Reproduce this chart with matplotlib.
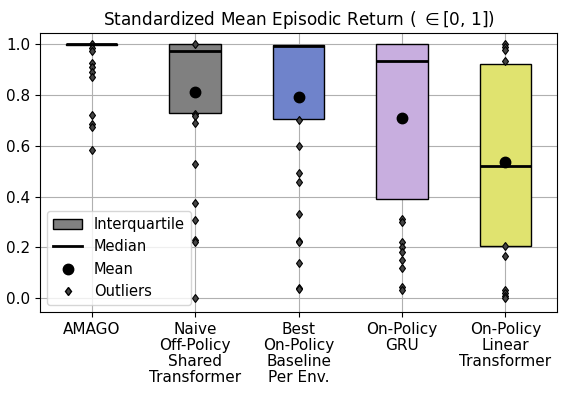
import numpy as np
import matplotlib
matplotlib.use("Agg")
import matplotlib.pyplot as plt
from matplotlib.patches import Patch
from matplotlib.lines import Line2D

methods = [
    "AMAGO",
    "Naive\nOff-Policy\nShared\nTransformer",
    "Best\nOn-Policy\nBaseline\nPer Env.",
    "On-Policy\nGRU",
    "On-Policy\nLinear\nTransformer",
]
colors = ["#808080", "#808080", "#6f83cb", "#c8aedf", "#e0e36f"]

q1 = [0.997, 0.730, 0.707, 0.389, 0.207]
medians = [1.000, 0.972, 0.992, 0.935, 0.522]
q3 = [1.000, 1.000, 0.997, 1.000, 0.924]
means = [np.nan, 0.811, 0.793, 0.710, 0.538]
outliers = [
    [1.0, 0.984, 0.974, 0.928, 0.911, 0.89, 0.871, 0.72, 0.684, 0.675, 0.585],
    [1.0, 0.727, 0.717, 0.688, 0.528, 0.375, 0.307, 0.228, 0.222, 0.0],
    [0.703, 0.60, 0.491, 0.458, 0.333, 0.226, 0.22, 0.14, 0.041, 0.035],
    [0.31, 0.30, 0.22, 0.202, 0.182, 0.15, 0.12, 0.042, 0.03],
    [1.0, 0.99, 0.976, 0.934, 0.207, 0.165, 0.03, 0.02, 0.01, 0.0],
]

stats = []
for i in range(len(methods)):
    stats.append({
        "q1": q1[i], "med": medians[i], "q3": q3[i], "mean": means[i],
        "whislo": q1[i], "whishi": q3[i], "fliers": outliers[i],
    })

fig, ax = plt.subplots(figsize=(5.78, 3.96), dpi=100)
fig.subplots_adjust(left=0.069, right=0.964, top=0.917, bottom=0.212)

ax.set_axisbelow(True)
ax.grid(True, color="#b0b0b0", linewidth=0.8)

bp = ax.bxp(
    stats,
    positions=range(len(methods)),
    widths=0.5,
    patch_artist=True,
    showmeans=True,
    showcaps=False,
    medianprops=dict(color="black", linewidth=2),
    meanprops=dict(marker="o", markerfacecolor="black", markeredgecolor="black", markersize=7.5),
    flierprops=dict(marker="d", markerfacecolor="#444444", markeredgecolor="black", markersize=4.5, markeredgewidth=0.8),
    whiskerprops=dict(linewidth=0),
)
for patch, c in zip(bp["boxes"], colors):
    patch.set_facecolor(c)
    patch.set_edgecolor("black")
    patch.set_linewidth(1)

ax.set_xticks(range(len(methods)))
ax.set_xticklabels(methods, fontsize=11, linespacing=1.1)
ax.set_xlim(-0.5, len(methods) - 0.5)
ax.set_ylim(-0.055, 1.045)
ax.set_yticks([0.0, 0.2, 0.4, 0.6, 0.8, 1.0])
ax.tick_params(axis="y", labelsize=11)
ax.set_title(r"Standardized Mean Episodic Return ( $\in$[0, 1])", fontsize=12.2)

handles = [
    Patch(facecolor="#808080", edgecolor="black", label="Interquartile"),
    Line2D([], [], color="black", linewidth=2, label="Median"),
    Line2D([], [], color="black", marker="o", linestyle="none", markersize=7.5, label="Mean"),
    Line2D([], [], color="black", marker="d", markerfacecolor="#444444", linestyle="none", markersize=4.5, label="Outliers"),
]
ax.legend(handles=handles, loc="lower left", fontsize=10.5)

fig.savefig("out.png", dpi=100)
